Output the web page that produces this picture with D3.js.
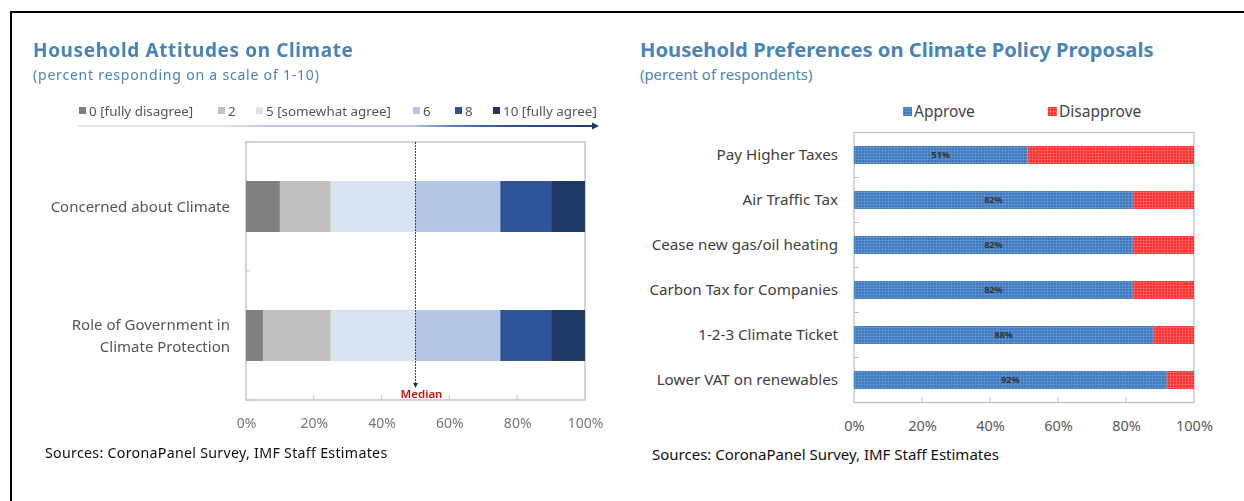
<!DOCTYPE html>
<html>
<head>
<meta charset="utf-8">
<script src="https://cdn.jsdelivr.net/npm/d3@7"></script>
<style>
  html, body { margin: 0; padding: 0; background: #fff; }
  svg { display: block; }
</style>
</head>
<body>
<svg id="fig" width="1244" height="501"></svg>
<script>
// ---- Attitudes panel data ----
const attitudeCategories = ["Concerned about Climate", "Role of Government in\nClimate Protection"];
const attitudeLevels = ["0 [fully disagree]", "2", "5 [somewhat agree]", "6", "8", "10 [fully agree]"];
const concernedShares = [10, 15, 25, 25, 15, 10];
const governmentShares = [5, 20, 25, 25, 15, 10];
const medianShare = 50;
const attitudeTicks = [0, 20, 40, 60, 80, 100];

// ---- Policy panel data ----
const policyCategories = ["Pay Higher Taxes", "Air Traffic Tax", "Cease new gas/oil heating",
  "Carbon Tax for Companies", "1-2-3 Climate Ticket", "Lower VAT on renewables"];
const policySeries = ["Approve", "Disapprove"];
const approveShares = [51, 82, 82, 82, 88, 92];
const disapproveShares = [49, 18, 18, 18, 12, 8];
const policyTicks = [0, 20, 40, 60, 80, 100];

const levelColors = ["#7f7f7f", "#bfbfbf", "#dae3f3", "#b4c7e7", "#2f5597", "#1f3864"];
const titleBlue = "#4a84b6";
const FONT = "'Noto Sans', 'Open Sans', sans-serif";

const svg = d3.select("#fig");
const defs = svg.append("defs");

// Frame lines along the top and left edge
svg.append("line").attr("x1", 10).attr("x2", 1244).attr("y1", 12).attr("y2", 12)
  .attr("stroke", "#000").attr("stroke-width", 2);
svg.append("line").attr("x1", 11).attr("x2", 11).attr("y1", 12).attr("y2", 501)
  .attr("stroke", "#000").attr("stroke-width", 2);

// ================= Left panel: attitudes =================
defs.append("filter").attr("id", "soft")
  .append("feGaussianBlur").attr("stdDeviation", 0.35);

const left = svg.append("g").attr("filter", "url(#soft)");

left.append("text").attr("x", 33).attr("y", 57)
  .attr("font-family", FONT).attr("font-weight", 700).attr("font-size", 19)
  .attr("letter-spacing", 0.6)
  .attr("fill", titleBlue).text("Household Attitudes on Climate");
left.append("text").attr("x", 33).attr("y", 80)
  .attr("font-family", FONT).attr("font-size", 14).attr("letter-spacing", 0.8)
  .attr("fill", titleBlue).text("(percent responding on a scale of 1-10)");

// Legend
const legendX = [79, 218, 256, 413, 455, 493];
const legend = left.append("g");
attitudeLevels.forEach((lab, i) => {
  legend.append("rect").attr("x", legendX[i]).attr("y", 107).attr("width", 7).attr("height", 7)
    .attr("fill", levelColors[i]);
  legend.append("text").attr("x", legendX[i] + 10).attr("y", 116)
    .attr("font-family", FONT).attr("font-size", 13.4).attr("fill", "#555")
    .text(lab);
});

// Gradient arrow under the legend
const grad = defs.append("linearGradient").attr("id", "scaleGrad")
  .attr("gradientUnits", "userSpaceOnUse").attr("x1", 78).attr("x2", 598).attr("y1", 0).attr("y2", 0);
[[0, "#e6e6e6"], [0.28, "#e0e6f0"], [0.36, "#b9cbe8"], [0.64, "#b4c7e7"], [0.72, "#5b7fc0"], [0.82, "#2f5597"], [1, "#1f3864"]]
  .forEach(([o, c]) => grad.append("stop").attr("offset", o).attr("stop-color", c));
left.append("line").attr("x1", 78).attr("x2", 592).attr("y1", 126).attr("y2", 126)
  .attr("stroke", "url(#scaleGrad)").attr("stroke-width", 2);
left.append("path").attr("d", "M592,122.5 L599,126 L592,129.5 Z").attr("fill", "#1f3864");

// Scales
const xA = d3.scaleLinear().domain([0, 100]).range([246, 585]);
const yA = d3.scaleBand().domain(attitudeCategories).range([142, 400]).padding(0);
const barHA = yA.bandwidth() * 0.395;

// Plot frame
left.append("rect").attr("x", xA(0)).attr("y", 142).attr("width", xA(100) - xA(0)).attr("height", 258)
  .attr("fill", "none").attr("stroke", "#c6c6c6").attr("stroke-width", 1.5);

// Stacked bars
const attitudeRows = [concernedShares, governmentShares];
attitudeRows.forEach((shares, r) => {
  const cat = attitudeCategories[r];
  let acc = 0;
  shares.forEach((v, i) => {
    left.append("rect")
      .attr("x", xA(acc)).attr("width", xA(acc + v) - xA(acc))
      .attr("y", yA(cat) + (yA.bandwidth() - barHA) / 2).attr("height", barHA)
      .attr("fill", levelColors[i]);
    acc += v;
  });
});

// Category axis
const yAxisA = left.append("g").attr("transform", `translate(${xA(0)},0)`)
  .call(d3.axisLeft(yA).tickSize(0).tickFormat(""));
yAxisA.select(".domain").remove();
[142, 271, 400].forEach(y => left.append("line").attr("x1", xA(0)).attr("x2", xA(0) + 4)
  .attr("y1", y).attr("y2", y).attr("stroke", "#c6c6c6"));
attitudeCategories.forEach(cat => {
  const lines = cat.split("\n");
  const cy = yA(cat) + yA.bandwidth() / 2;
  const t = left.append("text").attr("text-anchor", "end")
    .attr("font-family", FONT).attr("font-size", 15).attr("fill", "#555");
  lines.forEach((ln, k) => {
    t.append("tspan").attr("x", 230)
      .attr("y", cy + 5 + (k - (lines.length - 1) / 2) * 22).text(ln);
  });
});

// Value axis
const xAxisA = left.append("g").attr("transform", "translate(0,400)")
  .call(d3.axisBottom(xA).tickValues(attitudeTicks).tickSize(0).tickPadding(18)
    .tickFormat(d => d + "%"));
xAxisA.select(".domain").remove();
xAxisA.selectAll("text").attr("font-family", FONT).attr("font-size", 14)
  .attr("fill", "#777");
attitudeTicks.slice(1, -1).forEach(t => left.append("line")
  .attr("x1", xA(t)).attr("x2", xA(t)).attr("y1", 400).attr("y2", 395).attr("stroke", "#c6c6c6"));

// Median marker
left.append("line").attr("x1", xA(medianShare)).attr("x2", xA(medianShare))
  .attr("y1", 142).attr("y2", 384)
  .attr("stroke", "#444").attr("stroke-width", 1).attr("stroke-dasharray", "2,1");
left.append("path")
  .attr("d", `M${xA(medianShare) - 2.5},383 L${xA(medianShare) + 2.5},383 L${xA(medianShare)},388 Z`)
  .attr("fill", "#333");
left.append("text").attr("x", xA(medianShare) + 6).attr("y", 397.5).attr("text-anchor", "middle")
  .attr("font-family", FONT).attr("font-size", 11.5).attr("font-weight", 600)
  .attr("fill", "#d01010").text("Median");

left.append("text").attr("x", 45).attr("y", 458)
  .attr("font-family", FONT).attr("font-size", 14.2).attr("letter-spacing", 0.3).attr("fill", "#111")
  .text("Sources: CoronaPanel Survey, IMF Staff Estimates");

// ================= Right panel: policy proposals =================
function gridPattern(id, base, line) {
  const p = defs.append("pattern").attr("id", id).attr("patternUnits", "userSpaceOnUse")
    .attr("width", 3).attr("height", 3);
  p.append("rect").attr("width", 3).attr("height", 3).attr("fill", base);
  p.append("rect").attr("width", 3).attr("height", 1).attr("fill", line);
  p.append("rect").attr("width", 1).attr("height", 3).attr("fill", line);
}
gridPattern("gridBlue", "#3f78bd", "#5a8fcd");
gridPattern("gridRed", "#ff2d2d", "#ff5a5a");
const seriesFill = ["url(#gridBlue)", "url(#gridRed)"];

const right = svg.append("g");
right.append("text").attr("x", 640).attr("y", 57)
  .attr("font-family", FONT).attr("font-weight", 700).attr("font-size", 20.2)
  .attr("fill", titleBlue).text("Household Preferences on Climate Policy Proposals");
right.append("text").attr("x", 640).attr("y", 80)
  .attr("font-family", FONT).attr("font-size", 14.9)
  .attr("fill", titleBlue).text("(percent of respondents)");

const legendPX = [903, 1048];
policySeries.forEach((s, i) => {
  right.append("rect").attr("x", legendPX[i]).attr("y", 107).attr("width", 9).attr("height", 9)
    .attr("fill", seriesFill[i]);
  right.append("text").attr("x", legendPX[i] + 11).attr("y", 117)
    .attr("font-family", FONT).attr("font-size", 15.5).attr("fill", "#444").text(s);
});

const xP = d3.scaleLinear().domain([0, 100]).range([854, 1194]);
const yP = d3.scaleBand().domain(policyCategories).range([132.5, 402.5]).padding(0);
const barHP = yP.bandwidth() * 0.4;

right.append("rect").attr("x", xP(0)).attr("y", 132.5).attr("width", xP(100) - xP(0)).attr("height", 270)
  .attr("fill", "none").attr("stroke", "#bfbfbf").attr("stroke-width", 1.2);

policyCategories.forEach((cat, i) => {
  const vals = [approveShares[i], disapproveShares[i]];
  let acc = 0;
  const by = yP(cat) + (yP.bandwidth() - barHP) / 2;
  vals.forEach((v, k) => {
    right.append("rect").attr("x", xP(acc)).attr("width", xP(acc + v) - xP(acc))
      .attr("y", by).attr("height", barHP).attr("fill", seriesFill[k]);
    acc += v;
  });
  right.append("text").attr("x", xP(approveShares[i] / 2)).attr("y", by + barHP / 2 + 3.2)
    .attr("text-anchor", "middle").attr("font-family", FONT).attr("font-weight", 700)
    .attr("font-size", 9).attr("fill", "#333").text(approveShares[i] + "%");
});

// Category labels
const yAxisP = right.append("g").attr("transform", `translate(${xP(0) - 16},0)`)
  .call(d3.axisLeft(yP).tickSize(0).tickPadding(0));
yAxisP.select(".domain").remove();
yAxisP.selectAll("text").attr("font-family", FONT).attr("font-size", 15.2).attr("fill", "#404040");
d3.range(1, policyCategories.length).forEach(i => {
  const y = yP(policyCategories[i]);
  right.append("line").attr("x1", xP(0)).attr("x2", xP(0) + 5).attr("y1", y).attr("y2", y)
    .attr("stroke", "#bfbfbf");
});

// Value axis
const xAxisP = right.append("g").attr("transform", "translate(0,402.5)")
  .call(d3.axisBottom(xP).tickValues(policyTicks).tickSize(0).tickPadding(18)
    .tickFormat(d => d + "%"));
xAxisP.select(".domain").remove();
xAxisP.selectAll("text").attr("font-family", FONT).attr("font-size", 14.5).attr("fill", "#595959");
policyTicks.slice(1, -1).forEach(t => right.append("line")
  .attr("x1", xP(t)).attr("x2", xP(t)).attr("y1", 402.5).attr("y2", 397.5).attr("stroke", "#bfbfbf"));

right.append("text").attr("x", 652).attr("y", 460)
  .attr("font-family", FONT).attr("font-size", 15).attr("fill", "#111")
  .text("Sources: CoronaPanel Survey, IMF Staff Estimates");
</script>
</body>
</html>
